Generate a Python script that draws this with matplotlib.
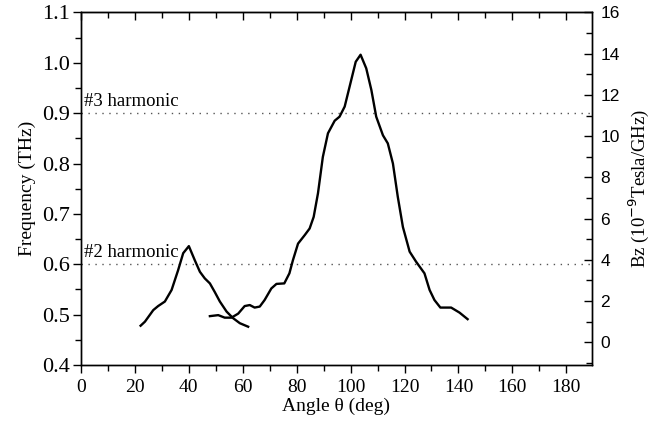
import numpy as np
import matplotlib
matplotlib.use("Agg")
import matplotlib.pyplot as plt
from matplotlib.ticker import MultipleLocator

# first peak (#2 harmonic region)
angle_a = [22.1, 23.7, 26.8, 28.6, 31.1, 33.6, 36.0, 37.9, 40.0, 42.2, 44.1,
           45.9, 47.8, 49.6, 51.5, 54.0, 56.4, 58.9, 62.0]
freq_a = [0.478, 0.486, 0.509, 0.517, 0.526, 0.549, 0.588, 0.622, 0.636, 0.608,
          0.585, 0.572, 0.562, 0.545, 0.526, 0.506, 0.493, 0.483, 0.476]

# second curve (#3 harmonic peak)
angle_b = [47.8, 50.9, 53.3, 55.8, 58.3, 60.7, 62.6, 64.4, 66.3, 68.1, 70.6,
           72.5, 75.4, 77.3, 78.6, 80.5, 83.0, 84.8, 86.3, 87.9, 89.7, 91.6,
           94.1, 95.9, 97.8, 99.6, 101.9, 103.7, 105.8, 107.7, 109.5, 112.0,
           113.8, 115.7, 117.5, 119.4, 121.9, 124.3, 127.4, 129.3, 131.1,
           133.3, 137.3, 140.4, 143.4]
freq_b = [0.497, 0.499, 0.494, 0.494, 0.502, 0.517, 0.519, 0.514, 0.516, 0.529,
          0.552, 0.561, 0.562, 0.582, 0.608, 0.641, 0.658, 0.671, 0.694, 0.741,
          0.813, 0.860, 0.885, 0.893, 0.913, 0.952, 1.002, 1.016, 0.989, 0.946,
          0.893, 0.856, 0.840, 0.800, 0.734, 0.674, 0.625, 0.605, 0.582, 0.549,
          0.529, 0.514, 0.514, 0.504, 0.491]

harmonics = [0.9, 0.6]
harmonic_labels = ['#3 harmonic', '#2 harmonic']

serif = 'Liberation Serif'
sans = 'Liberation Sans'

fig = plt.figure(figsize=(6.54, 4.28), dpi=100)
ax = fig.add_axes([0.1239, 0.1472, 0.905 - 0.1239, 0.971 - 0.1472])

for h, lab in zip(harmonics, harmonic_labels):
    ax.axhline(h, color='#555555', lw=1.0, dashes=(1, 4))
    ax.text(1, h + 0.006, lab, fontsize=13.5, family=serif, va='bottom', ha='left')

ax.plot(angle_a, freq_a, color='black', lw=1.7)
ax.plot(angle_b, freq_b, color='black', lw=1.7)

ax.set_xlim(0, 189.5)
ax.set_ylim(0.4, 1.1)
ax.xaxis.set_major_locator(MultipleLocator(20))
ax.xaxis.set_minor_locator(MultipleLocator(10))
ax.yaxis.set_major_locator(MultipleLocator(0.1))
ax.yaxis.set_minor_locator(MultipleLocator(0.05))
ax.tick_params(axis='both', which='both', direction='out', top=False, right=False)
ax.tick_params(which='major', length=6, width=1)
ax.tick_params(which='minor', length=4, width=1)
ax.tick_params(axis='y', labelsize=16, pad=2)
ax.tick_params(axis='x', labelsize=14, pad=4)
for t in ax.get_xticklabels() + ax.get_yticklabels():
    t.set_family(serif)
ax.set_yticks(np.arange(0.4, 1.101, 0.1))
ax.set_yticklabels(['%.1f' % v for v in np.arange(0.4, 1.101, 0.1)], family=serif)
ax.set_xlabel('Angle θ (deg)', fontsize=14, family=serif, labelpad=1)
ax.set_ylabel('Frequency (THz)', fontsize=14, family=serif, labelpad=4)

# top ticks pointing inward
top = ax.secondary_xaxis('top')
top.xaxis.set_major_locator(MultipleLocator(20))
top.xaxis.set_minor_locator(MultipleLocator(10))
top.tick_params(which='both', direction='in', labeltop=False, width=1)
top.tick_params(which='major', length=6)
top.tick_params(which='minor', length=4)

ax2 = ax.twinx()
ax2.set_ylim(-1.1, 16)
ax2.yaxis.set_major_locator(MultipleLocator(2))
ax2.yaxis.set_minor_locator(MultipleLocator(1))
ax2.tick_params(which='both', direction='in', width=1, labelsize=12.5, pad=6)
ax2.tick_params(which='major', length=6)
ax2.tick_params(which='minor', length=4)
ax2.set_yticks(np.arange(0, 17, 2))
ax2.set_yticklabels([str(v) for v in range(0, 17, 2)], family=sans)
ax2.set_ylabel('Bz (10$^{-9}$Tesla/GHz)', fontsize=13.5, family=serif, labelpad=5)

for a in (ax, ax2):
    for s in a.spines.values():
        s.set_linewidth(1.0)

fig.savefig('out.png', dpi=100)
